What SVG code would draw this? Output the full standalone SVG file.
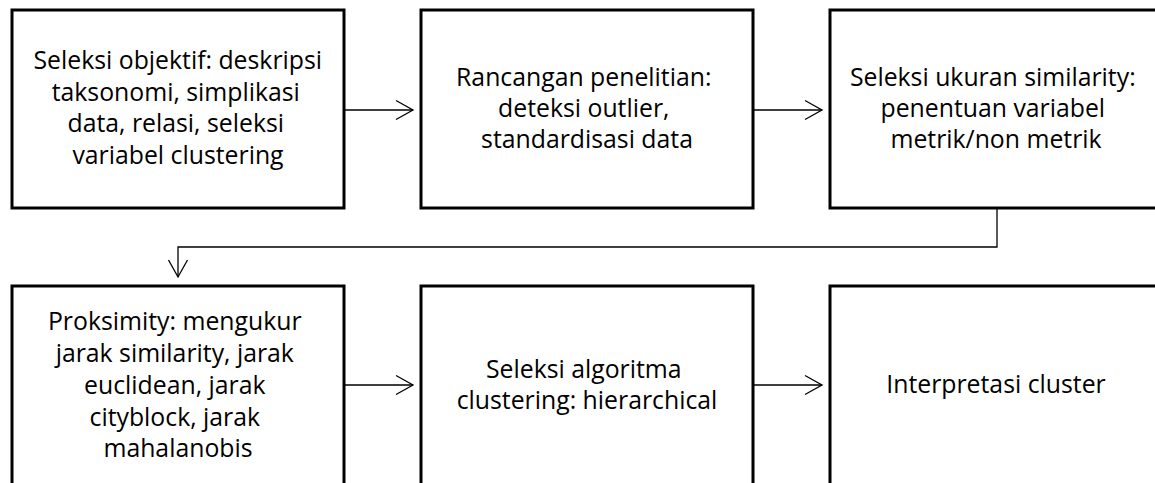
<svg xmlns="http://www.w3.org/2000/svg" width="1155" height="483" viewBox="0 0 1155 483">
  <defs>
    <style>
      .box { fill: #ffffff; stroke: #000000; stroke-width: 3; }
      .lbl { font-family: "Open Sans", "Noto Sans", "Liberation Sans", sans-serif; font-size: 24.8px; fill: #000000; text-anchor: middle; }
      .con { fill: none; stroke: #000000; stroke-width: 1.3; }
    </style>
    <marker id="chev" markerUnits="userSpaceOnUse" markerWidth="24" markerHeight="24" viewBox="-20 -12 24 24" refX="0" refY="0" orient="auto">
      <path d="M -17 -9.5 L 0 0 L -17 9.5" fill="none" stroke="#000000" stroke-width="1.3"/>
    </marker>
  </defs>
  <rect width="1155" height="483" fill="#ffffff"/>

  <g id="connectors">
    <line class="con" x1="344" y1="110" x2="413" y2="110" marker-end="url(#chev)"/>
    <line class="con" x1="753" y1="110" x2="822" y2="110" marker-end="url(#chev)"/>
    <polyline class="con" points="997,208 997,247 178,247 178,277" marker-end="url(#chev)"/>
    <line class="con" x1="344" y1="385" x2="413" y2="385" marker-end="url(#chev)"/>
    <line class="con" x1="753" y1="385" x2="822" y2="385" marker-end="url(#chev)"/>
  </g>

  <g id="node1">
    <rect class="box" x="12" y="10" width="332" height="198"/>
    <text class="lbl">
      <tspan x="181" y="69">Seleksi objektif: deskripsi</tspan>
      <tspan x="179" y="100.5">taksonomi, simplikasi</tspan>
      <tspan x="179" y="132">data, relasi, seleksi</tspan>
      <tspan x="178" y="163.5">variabel clustering</tspan>
    </text>
  </g>

  <g id="node2">
    <rect class="box" x="421" y="10" width="332" height="198"/>
    <text class="lbl">
      <tspan x="587" y="86">Rancangan penelitian:</tspan>
      <tspan x="587" y="117">deteksi outlier,</tspan>
      <tspan x="587" y="148">standardisasi data</tspan>
    </text>
  </g>

  <g id="node3">
    <rect class="box" x="830" y="10" width="332" height="198"/>
    <text class="lbl">
      <tspan x="996" y="86">Seleksi ukuran similarity:</tspan>
      <tspan x="996" y="117">penentuan variabel</tspan>
      <tspan x="996" y="148">metrik/non metrik</tspan>
    </text>
  </g>

  <g id="node4">
    <rect class="box" x="12" y="286" width="332" height="200"/>
    <text class="lbl">
      <tspan x="178" y="330">Proksimity: mengukur</tspan>
      <tspan x="178" y="362">jarak similarity, jarak</tspan>
      <tspan x="178" y="394">euclidean, jarak</tspan>
      <tspan x="178" y="425.5">cityblock, jarak</tspan>
      <tspan x="178" y="457">mahalanobis</tspan>
    </text>
  </g>

  <g id="node5">
    <rect class="box" x="421" y="286" width="332" height="200"/>
    <text class="lbl">
      <tspan x="587" y="378">Seleksi algoritma</tspan>
      <tspan x="587" y="409">clustering: hierarchical</tspan>
    </text>
  </g>

  <g id="node6">
    <rect class="box" x="830" y="286" width="332" height="200"/>
    <text class="lbl">
      <tspan x="996" y="393">Interpretasi cluster</tspan>
    </text>
  </g>
</svg>
